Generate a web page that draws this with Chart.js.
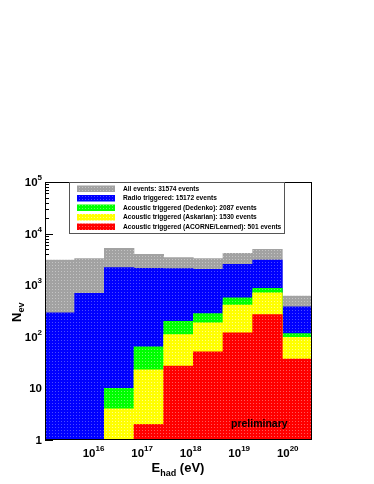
<!DOCTYPE html>
<html>
<head>
<meta charset="utf-8">
<script src="https://cdn.jsdelivr.net/npm/chart.js@4.4.1/dist/chart.umd.min.js"></script>
<style>
  html, body { margin: 0; padding: 0; background: #fff; }
  canvas { display: block; }
</style>
</head>
<body>
<canvas id="c" width="374" height="484"></canvas>
<script>
// bin centres in log10(E_had / eV), 9 bins from 15 to 20.5
const binCenters = [15.306, 15.917, 16.528, 17.139, 17.75, 18.361, 18.972, 19.583, 20.194];

const allEvents = [3080, 3280, 5200, 3980, 3430, 3280, 4160, 4970, 614];
const radio     = [292, 692, 2190, 2120, 2090, 2030, 2540, 3080, 382];
const dedenko   = [0, 0, 10, 64, 200, 283, 571, 866, 115];
const askaryan  = [0, 0, 4, 23, 110, 186, 410, 714, 98];
const acorne    = [0, 0, 0, 2, 27, 51, 119, 270, 37];

const legendLabels = [
  "All events: 31574 events",
  "Radio triggered: 15172 events",
  "Acoustic triggered (Dedenko): 2087 events",
  "Acoustic triggered (Askarian): 1530 events",
  "Acoustic triggered (ACORNE/Learned): 501 events",
];
const xTickExps = [16, 17, 18, 19, 20];
const yTickExps = [0, 1, 2, 3, 4, 5];

const FONT = "'Liberation Sans', Arial, Helvetica, sans-serif";
const canvas = document.getElementById("c");
const ctx = canvas.getContext("2d");

// ROOT style dotted fill
function dotted(base, dot) {
  const t = document.createElement("canvas");
  t.width = 3;
  t.height = 3;
  const g = t.getContext("2d");
  g.fillStyle = base;
  g.fillRect(0, 0, 3, 3);
  g.fillStyle = dot;
  g.fillRect(1, 1, 1, 1);
  return ctx.createPattern(t, "repeat");
}

const fills = [
  dotted("#a2a2a2", "#c4c4c4"),
  dotted("#0000ff", "#4a4aff"),
  dotted("#00ff00", "#66ff66"),
  dotted("#ffff00", "#ffff88"),
  dotted("#ff0000", "#ff5a5a"),
];
const series = [allEvents, radio, dedenko, askaryan, acorne];

function toPoints(vals) {
  return binCenters.map((x, i) => ({ x: x, y: vals[i] }));
}

// draws "base" with a superscript exponent; align: "right" | "center"
function drawPow(g, base, exp, x, y, align) {
  g.font = "bold 11.5px " + FONT;
  const wb = g.measureText(base).width;
  g.font = "bold 8px " + FONT;
  const we = exp === null ? 0 : g.measureText(exp).width;
  const total = wb + we;
  let x0 = align === "right" ? x - total : x - total / 2;
  g.textAlign = "left";
  g.textBaseline = "alphabetic";
  g.fillStyle = "#000";
  g.font = "bold 11.5px " + FONT;
  g.fillText(base, x0, y);
  if (exp !== null) {
    g.font = "bold 8px " + FONT;
    g.fillText(exp, x0 + wb, y - 6);
  }
}

const rootDecor = {
  id: "rootDecor",
  beforeDatasetsDraw(chart) {
    const g = chart.ctx;
    const a = chart.chartArea;
    const ys = chart.scales.y;
    g.save();
    g.strokeStyle = "#000";
    g.lineWidth = 1;
    g.beginPath();
    for (let k = 0; k < 5; k++) {
      for (let d = 1; d <= 9; d++) {
        const py = Math.round(ys.getPixelForValue(d * Math.pow(10, k))) + 0.5;
        const len = d === 1 ? 8 : 4;
        g.moveTo(a.left, py);
        g.lineTo(a.left + len, py);
      }
    }
    g.stroke();
    g.restore();
  },
  afterDraw(chart) {
    const g = chart.ctx;
    const a = chart.chartArea;
    const xs = chart.scales.x;
    const ys = chart.scales.y;
    g.save();

    // frame
    g.strokeStyle = "#000";
    g.lineWidth = 1;
    g.strokeRect(a.left + 0.5, a.top + 0.5, a.right - a.left - 1, a.bottom - a.top - 1);

    // legend
    const lx = 69, ly = a.top, lw = 215, lh = 51;
    g.fillStyle = "#fff";
    g.fillRect(lx, ly, lw, lh);
    g.strokeStyle = "#555";
    g.strokeRect(lx + 0.5, ly + 0.5, lw, lh);
    legendLabels.forEach((txt, i) => {
      const cy = ly + 6.5 + i * 9.5;
      g.fillStyle = fills[i];
      g.fillRect(77, cy - 3, 38, 6.5);
      g.fillStyle = "#000";
      g.font = "bold 6.6px " + FONT;
      g.textAlign = "left";
      g.textBaseline = "middle";
      g.fillText(txt, 123, cy + 0.5);
    });

    // tick labels
    yTickExps.forEach((e) => {
      const py = ys.getPixelForValue(Math.pow(10, e));
      if (e === 0) drawPow(g, "1", null, 42, py + 4, "right");
      else if (e === 1) drawPow(g, "10", null, 42, py + 4, "right");
      else drawPow(g, "10", String(e), 42, py + 4, "right");
    });
    xTickExps.forEach((e) => {
      drawPow(g, "10", String(e), xs.getPixelForValue(e), 457, "center");
    });

    // "preliminary"
    g.fillStyle = "#000";
    g.font = "bold 10.5px " + FONT;
    g.textAlign = "left";
    g.textBaseline = "alphabetic";
    g.fillText("preliminary", 231, 427);

    // x axis title: E_had (eV)
    g.font = "bold 13px " + FONT;
    const wE = g.measureText("E").width;
    const wUnit = g.measureText(" (eV)").width;
    g.font = "bold 9px " + FONT;
    const wSub = g.measureText("had").width;
    let tx = 178 - (wE + wSub + wUnit) / 2;
    g.font = "bold 13px " + FONT;
    g.fillText("E", tx, 472);
    g.font = "bold 9px " + FONT;
    g.fillText("had", tx + wE, 476);
    g.font = "bold 13px " + FONT;
    g.fillText(" (eV)", tx + wE + wSub, 472);

    // y axis title: N_ev
    g.translate(21, 322);
    g.rotate(-Math.PI / 2);
    g.font = "bold 13px " + FONT;
    g.fillText("N", 0, 0);
    const wN = g.measureText("N").width;
    g.font = "bold 9px " + FONT;
    g.fillText("ev", wN, 3);

    g.restore();
  },
};

const datasets = series.map((vals, i) => ({
  label: legendLabels[i],
  data: toPoints(vals),
  backgroundColor: fills[i],
  borderWidth: 0,
  grouped: false,
  barPercentage: 1,
  categoryPercentage: 1,
  order: 5 - i,
}));

new Chart(canvas, {
  type: "bar",
  data: { datasets: datasets },
  options: {
    responsive: false,
    animation: false,
    devicePixelRatio: 1,
    layout: { padding: { top: 182, right: 62, left: 0, bottom: 0 } },
    plugins: {
      legend: { display: false },
      tooltip: { enabled: false },
    },
    scales: {
      x: {
        type: "linear",
        min: 15,
        max: 20.5,
        offset: false,
        stacked: true,
        grid: { display: false },
        border: { display: false },
        ticks: { display: false },
        afterFit: (s) => { s.height = 44; },
      },
      y: {
        type: "logarithmic",
        min: 1,
        max: 100000,
        stacked: false,
        grid: { display: false },
        border: { display: false },
        ticks: { display: false },
        afterFit: (s) => { s.width = 45; },
      },
    },
  },
  plugins: [rootDecor],
});
</script>
</body>
</html>
